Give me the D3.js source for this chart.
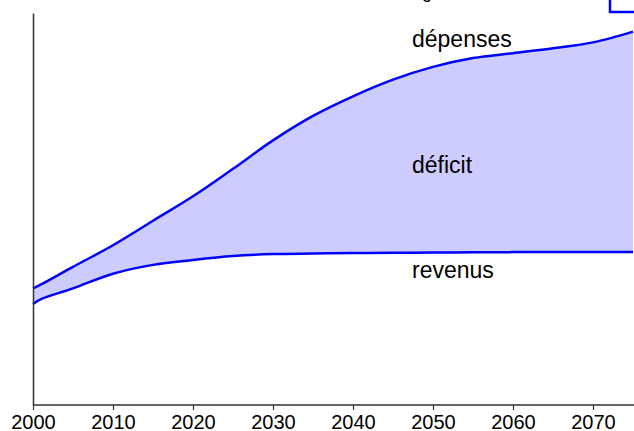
<!DOCTYPE html>
<html>
<head>
<meta charset="utf-8">
<script src="https://cdn.jsdelivr.net/npm/d3@7"></script>
<style>
  html, body { margin: 0; padding: 0; background: #fff; }
  svg { display: block; }
  text { font-family: "Liberation Sans", Arial, sans-serif; }
</style>
</head>
<body>
<svg id="chart" width="634" height="431"></svg>
<script>
// Data (share of GDP)
const years = [2000, 2001, 2005, 2010, 2015, 2020, 2025, 2030, 2035, 2040, 2045, 2050, 2055, 2060, 2065, 2070, 2075];
const depenses = [11.9, 12.3, 14.1, 16.3, 18.8, 21.3, 24.1, 27.0, 29.5, 31.5, 33.2, 34.5, 35.4, 35.9, 36.4, 37.0, 38.1];
const revenus  = [10.3, 10.8, 11.9, 13.4, 14.3, 14.8, 15.2, 15.4, 15.45, 15.5, 15.53, 15.56, 15.58, 15.6, 15.6, 15.6, 15.6];
const xTicks = [2000, 2010, 2020, 2030, 2040, 2050, 2060, 2070];
const labels = { depenses: "dépenses", deficit: "déficit", revenus: "revenus" };

const data = years.map((y, i) => ({ year: y, dep: depenses[i], rev: revenus[i] }));

const svg = d3.select("#chart");
const x = d3.scaleLinear().domain([2000, 2075]).range([33, 633]);
const y = d3.scaleLinear().domain([0, 40]).range([405, 13]);

// clipped top-right box (legend frame, partly outside view)
svg.append("rect")
  .attr("x", 610).attr("y", -30).attr("width", 60).attr("height", 42)
  .attr("fill", "none").attr("stroke", "#0000ff").attr("stroke-width", 2.5);

// partially visible text at top
svg.append("text").attr("x", 422).attr("y", -2)
  .style("font-size", "18px").attr("fill", "#000").text("g");

const curve = d3.curveCatmullRom.alpha(0.5);

svg.append("path").datum(data)
  .attr("fill", "#ccccff")
  .attr("d", d3.area().curve(curve).x(d => x(d.year)).y0(d => y(d.rev)).y1(d => y(d.dep)));

const line = key => d3.line().curve(curve).x(d => x(d.year)).y(d => y(d[key]));
svg.append("path").datum(data).attr("fill", "none").attr("stroke", "#0000ff")
  .attr("stroke-width", 2.5).attr("d", line("dep"));
svg.append("path").datum(data).attr("fill", "none").attr("stroke", "#0000ff")
  .attr("stroke-width", 2.5).attr("d", line("rev"));

// axes
const xAxis = svg.append("g").attr("transform", "translate(0,405)")
  .call(d3.axisBottom(x).tickValues(xTicks).tickFormat(d3.format("d")).tickSize(5).tickSizeOuter(0));
xAxis.attr("font-size", null).attr("font-family", null);
xAxis.select(".domain").attr("stroke", "#333").attr("stroke-width", 1.5).attr("d", "M33,0H634");
xAxis.selectAll(".tick line").attr("stroke", "#333").attr("stroke-width", 1.2);
xAxis.selectAll(".tick text")
  .style("font-size", "20px").style("font-family", "'Liberation Sans', Arial, sans-serif")
  .attr("fill", "#000").attr("dy", null).attr("y", 24);

const yAxis = svg.append("g").attr("transform", "translate(33,0)")
  .call(d3.axisLeft(y).tickValues([]).tickSizeOuter(0));
yAxis.select(".domain").attr("stroke", "#333").attr("stroke-width", 1.5);

// labels
svg.append("text").attr("x", 412).attr("y", 47).style("font-size", "23px").text(labels.depenses);
svg.append("text").attr("x", 412).attr("y", 173).style("font-size", "23px").text(labels.deficit);
svg.append("text").attr("x", 412).attr("y", 278).style("font-size", "23px").text(labels.revenus);
</script>
</body>
</html>
